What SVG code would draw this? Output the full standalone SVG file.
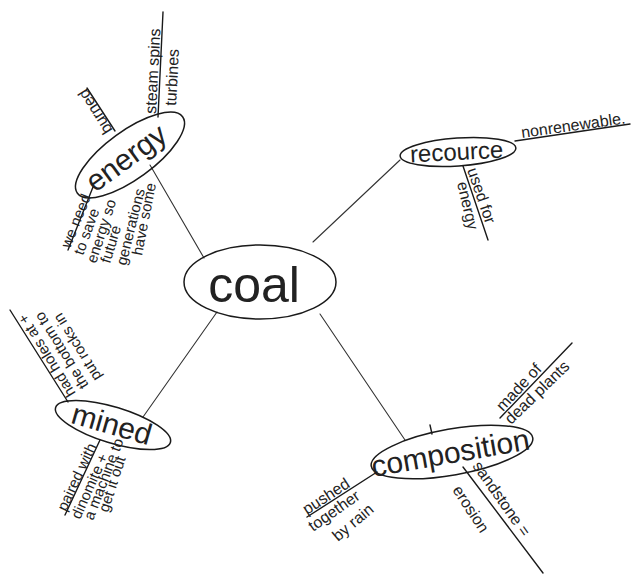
<svg xmlns="http://www.w3.org/2000/svg" width="633" height="579" viewBox="0 0 633 579">
<style>
.bg{fill:#fff}
.node{fill:none;stroke:#1a1a1a;stroke-width:1.5}
.ln{fill:none;stroke:#1a1a1a;stroke-width:1.4;stroke-linecap:round}
.cn{fill:none;stroke:#333;stroke-width:1.1;stroke-linecap:round}
text{font-family:"Liberation Sans","DejaVu Sans",sans-serif;fill:#222}
.t1{font-size:50px}
.t2{font-size:30px}
.t3{font-size:24px}
.s{font-size:16px}
.xs{font-size:15px}
</style>
<rect class="bg" x="0" y="0" width="633" height="579"/>
<g id="connectors">
<line class="cn" x1="150" y1="165" x2="204" y2="258"/>
<line class="cn" x1="400" y1="160" x2="313" y2="242"/>
<line class="cn" x1="143" y1="417" x2="217" y2="312"/>
<line class="cn" x1="320" y1="314" x2="405" y2="440"/>
</g>
<g id="coal">
<ellipse class="node" cx="260" cy="282" rx="76" ry="37"/>
<text class="t1" x="254" y="302" text-anchor="middle">coal</text>
</g>
<g id="energy">
<ellipse class="node" cx="130" cy="155" rx="65" ry="24" transform="rotate(-36 130 155)"/>
<text class="t2" transform="translate(132,166) rotate(-36)" text-anchor="middle">energy</text>
<line class="ln" x1="158" y1="117" x2="163" y2="12"/>
<text class="s" transform="translate(156,114) rotate(-87)">steam spins</text>
<text class="s" transform="translate(176,106) rotate(-87)">turbines</text>
<line class="ln" x1="115" y1="131" x2="87" y2="88"/>
<text class="s" transform="translate(113,130) rotate(-122)">burned</text>
<line class="ln" x1="93" y1="187" x2="68" y2="250"/>
<text class="xs" transform="translate(70,249) rotate(-68)">we need</text>
<text class="xs" transform="translate(83,256) rotate(-70)">to save</text>
<text class="xs" transform="translate(96,264) rotate(-72)">energy so</text>
<text class="xs" transform="translate(110,264) rotate(-73)">future</text>
<text class="xs" transform="translate(126,266) rotate(-76)">generations</text>
<text class="xs" transform="translate(142,256) rotate(-79)">have some</text>
</g>
<g id="recource">
<ellipse class="node" cx="458" cy="152" rx="58" ry="14" transform="rotate(-4 458 152)"/>
<text class="t3" transform="translate(457,160) rotate(-3)" text-anchor="middle">recource</text>
<line class="ln" x1="515" y1="141" x2="630" y2="124"/>
<text class="s" transform="translate(522,138) rotate(-8)">nonrenewable.</text>
<line class="ln" x1="463" y1="166" x2="488" y2="240"/>
<text class="s" transform="translate(467,170) rotate(71)">used for</text>
<text class="s" transform="translate(457,183) rotate(77)">energy</text>
</g>
<g id="mined">
<ellipse class="node" cx="113" cy="425" rx="60" ry="18" transform="rotate(17 113 425)"/>
<text class="t2" transform="translate(109,434) rotate(16)" text-anchor="middle">mined</text>
<line class="ln" x1="68" y1="402" x2="10" y2="310"/>
<text class="xs" transform="translate(76,393) rotate(-122)">had holes at +</text>
<text class="xs" transform="translate(89,385) rotate(-122)">the bottom to</text>
<text class="xs" transform="translate(102,377) rotate(-122)">put rocks in</text>
<line class="ln" x1="100" y1="440" x2="65" y2="515"/>
<text class="xs" transform="translate(66,512) rotate(-65)">paired with</text>
<text class="xs" transform="translate(80,520) rotate(-66)">dinomite +</text>
<text class="xs" transform="translate(93,521) rotate(-69)">a machine to</text>
<text class="xs" transform="translate(108,513) rotate(-72)">get it out</text>
</g>
<g id="composition">
<ellipse class="node" cx="452" cy="452" rx="82" ry="23" transform="rotate(-10 452 452)"/>
<text class="t2" transform="translate(452,463) rotate(-10)" text-anchor="middle">composition</text>
<line class="ln" x1="430" y1="425" x2="432" y2="434"/>
<line class="ln" x1="500" y1="418" x2="572" y2="343"/>
<text class="s" transform="translate(503,412) rotate(-47)">made of</text>
<text class="s" transform="translate(511,425) rotate(-44)">dead plants</text>
<line class="ln" x1="377" y1="472" x2="307" y2="517"/>
<text class="s" transform="translate(307,515) rotate(-33)">pushed</text>
<text class="s" transform="translate(313,532) rotate(-35)">together</text>
<text class="s" transform="translate(338,542) rotate(-40)">by rain</text>
<line class="ln" x1="463" y1="467" x2="543" y2="573"/>
<text class="s" transform="translate(472,466) rotate(55)">sandstone =</text>
<text class="s" transform="translate(452,490) rotate(57)">erosion</text>
</g>
</svg>
